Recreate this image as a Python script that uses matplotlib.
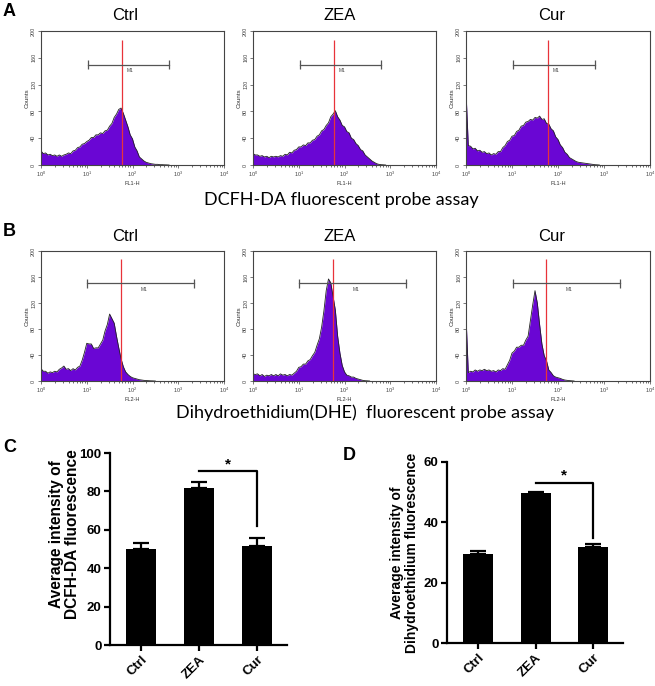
import numpy as np
import matplotlib
matplotlib.use('Agg')
import matplotlib.pyplot as plt

plt.rcParams['font.family'] = ['Liberation Sans', 'DejaVu Sans']

# ----------------------------
# Data
# ----------------------------

groups = ['Ctrl', 'ZEA', 'Cur']

# flow histograms: counts every 0.05 decade, starting at 10^0
bin_step = 0.05
dcfh_ctrl = [21, 17, 18, 15, 16, 14, 15, 13, 15, 13, 15, 16, 18, 17, 21, 22, 26, 27, 31, 32,
             35, 37, 41, 41, 45, 45, 48, 47, 51, 52, 58, 62, 71, 76, 83, 85, 77, 67, 57, 45,
             39, 27, 21, 12, 9, 6, 4, 3, 2, 1.5, 1, 1, 0.5, 0.5, 0.3, 0.2, 0]
dcfh_zea = [17, 15, 15, 13, 14, 12, 13, 11, 13, 12, 13, 12, 14, 13, 16, 15, 19, 18, 22, 23,
            27, 27, 30, 29, 33, 33, 37, 38, 43, 45, 51, 53, 59, 63, 72, 76, 81, 72, 67, 59,
            57, 50, 48, 40, 38, 32, 29, 23, 21, 15, 12, 9, 6, 4, 2, 1, 0.5, 0.3, 0]
dcfh_cur = [110, 29, 28, 24, 25, 21, 22, 19, 20, 17, 18, 15, 17, 16, 20, 20, 26, 29, 35, 37,
            43, 44, 50, 52, 58, 59, 64, 65, 68, 67, 71, 70, 73, 68, 69, 62, 61, 54, 51, 42,
            38, 30, 26, 19, 16, 11, 9, 7, 5, 4, 3.5, 3, 2.5, 2, 1.5, 1, 0.5, 0.3, 0]
dhe_ctrl = [19, 15, 15, 12, 14, 13, 15, 14, 18, 20, 23, 18, 19, 16, 19, 17, 21, 23, 32, 44,
            58, 57, 57, 50, 51, 51, 57, 63, 77, 87, 103, 96, 89, 69, 51, 34, 22, 14, 10, 7,
            5, 4, 3, 2, 1.5, 1, 0.7, 0.5, 0.3, 0.2, 0]
dhe_zea = [11, 10, 11, 8, 10, 7, 9, 8, 10, 8, 10, 8, 11, 9, 10, 8, 10, 9, 12, 15,
           21, 22, 26, 26, 31, 33, 39, 44, 55, 65, 83, 108, 139, 157, 151, 130, 109, 69, 43, 24,
           14, 9, 8, 6, 6, 4, 3, 2, 1, 0.5, 0.3, 0]
dhe_cur = [100, 13, 15, 14, 17, 15, 17, 16, 18, 16, 17, 15, 16, 14, 17, 16, 19, 18, 25, 32,
           43, 46, 52, 52, 55, 55, 63, 69, 93, 117, 139, 120, 87, 57, 39, 31, 17, 13, 8, 6,
           5, 4, 2.5, 1.5, 1, 0.6, 0.3, 0]

dcfh_marker = 60
dhe_marker = 55
dcfh_gate = [10.7, 640]
dhe_gate = [10.3, 2200]

# bar charts
dcfh_mean = [49.8, 82.0, 51.8]
dcfh_err = [3.3, 3.0, 3.8]
dhe_mean = [29.5, 49.8, 31.8]
dhe_err = [1.0, 0.2, 1.1]

# ----------------------------
# Helpers
# ----------------------------

W, H = 655, 686
fig = plt.figure(figsize=(W / 100, H / 100), dpi=100)

def px_axes(x0, y0, x1, y1):
    return fig.add_axes([x0 / W, 1 - y1 / H, (x1 - x0) / W, (y1 - y0) / H])

def px_text(x, y, s, **kw):
    fig.text(x / W, 1 - y / H, s, **kw)

purple = '#6a06d4'

def histo(ax, counts, marker, gate, xlab, mlab_x):
    x = 10 ** (np.arange(len(counts)) * bin_step)
    ax.fill_between(x, counts, 0, color=purple, lw=0)
    ax.plot(x, counts, color='#222222', lw=0.6)
    ax.set_xscale('log')
    ax.set_xlim(1, 1e4)
    ax.set_ylim(0, 200)
    ax.set_yticks([0, 40, 80, 120, 160, 200])
    ax.vlines(marker, 0, 187, color='#e8333a', lw=0.9)
    ax.plot(gate, [150, 150], color='#555555', lw=0.9)
    ax.vlines(gate, 143, 157, color='#555555', lw=0.9)
    ax.text(mlab_x, 141, 'M1', fontsize=3.5, color='#444444', ha='center', va='center')
    ax.tick_params(labelsize=4, length=2, width=0.5, colors='#444444', pad=1.5)
    ax.tick_params(which='minor', length=1.2, width=0.4)
    for lab in ax.get_yticklabels():
        lab.set_rotation(90)
        lab.set_va('center')
    ax.set_ylabel('Counts', fontsize=4.5, labelpad=1, color='#333333')
    ax.set_xlabel(xlab, fontsize=4, labelpad=1, color='#333333')
    for sp in ax.spines.values():
        sp.set_linewidth(0.8)
        sp.set_color('#444444')

# ----------------------------
# Histogram panels A and B
# ----------------------------

cols = [(41, 224), (253, 436), (466, 650)]
row_a = (31, 165)
row_b = (251, 381)

for i, c in enumerate([dcfh_ctrl, dcfh_zea, dcfh_cur]):
    ax = px_axes(cols[i][0], row_a[0], cols[i][1], row_a[1])
    histo(ax, c, dcfh_marker, dcfh_gate, 'FL1-H', 10 ** 1.95)
for i, c in enumerate([dhe_ctrl, dhe_zea, dhe_cur]):
    ax = px_axes(cols[i][0], row_b[0], cols[i][1], row_b[1])
    histo(ax, c, dhe_marker, dhe_gate, 'FL2-H', 10 ** 2.25)

for i, g in enumerate(groups):
    cx = [125, 340, 552][i]
    px_text(cx, 16, g, fontsize=12, ha='center', va='center')
    px_text(cx, 236, g, fontsize=12, ha='center', va='center')

px_text(3, 12, 'A', fontsize=13, fontweight='bold', va='center')
px_text(3, 232, 'B', fontsize=13, fontweight='bold', va='center')
px_text(3, 447, 'C', fontsize=13, fontweight='bold', va='center')
px_text(343, 456, 'D', fontsize=13, fontweight='bold', va='center')

px_text(341, 200, 'DCFH-DA fluorescent probe assay', fontsize=13,
        family=['Lato', 'DejaVu Sans'], ha='center', va='center')
px_text(365, 413, 'Dihydroethidium(DHE)  fluorescent probe assay', fontsize=13,
        family=['Lato', 'DejaVu Sans'], ha='center', va='center')

# ----------------------------
# Bar panels C and D
# ----------------------------

def bars(ax, means, errs, ymax, step, ylab, sig_y, sig_low, lab_size, lab_x, lab_y):
    xs = np.arange(len(groups))
    ax.bar(xs, means, width=0.52, color='k')
    ax.errorbar(xs, means, yerr=[[0] * len(errs), errs], fmt='none', ecolor='k',
                elinewidth=1.6, capsize=6, capthick=1.6)
    ax.set_xlim(-0.54, 2.52)
    ax.set_ylim(0, ymax)
    ax.set_yticks(np.arange(0, ymax + 1, step))
    ax.set_xticks(xs)
    ax.set_xticklabels(groups, rotation=45, ha='right', rotation_mode='anchor')
    ax.plot([1, 2, 2], [sig_y, sig_y, sig_low], color='k', lw=1.6)
    ax.text(1.5, sig_y, '*', fontsize=11, fontweight='bold', ha='center', va='bottom')
    ax.set_ylabel(ylab, fontsize=lab_size, fontweight='bold', linespacing=1.05)
    ax.yaxis.set_label_coords(lab_x, lab_y)
    for sp in ['top', 'right']:
        ax.spines[sp].set_visible(False)
    for sp in ['left', 'bottom']:
        ax.spines[sp].set_linewidth(1.6)
    ax.tick_params(direction='out', length=4, width=1.6, labelsize=9.5, pad=2)
    for lab in ax.get_xticklabels() + ax.get_yticklabels():
        lab.set_fontweight('bold')

ax_c = px_axes(110, 453, 287, 645)
bars(ax_c, dcfh_mean, dcfh_err, 100, 20, 'Average intensity of\nDCFH-DA fluorescence',
     90.6, 62, 11.2, -0.17, 0.58)

ax_d = px_axes(447, 462, 623, 643)
bars(ax_d, dhe_mean, dhe_err, 60, 20, 'Average intensity of\nDihydroethidium fluorescence',
     53.2, 34.9, 10, -0.16, 0.5)

plt.savefig('out.png', dpi=100)
